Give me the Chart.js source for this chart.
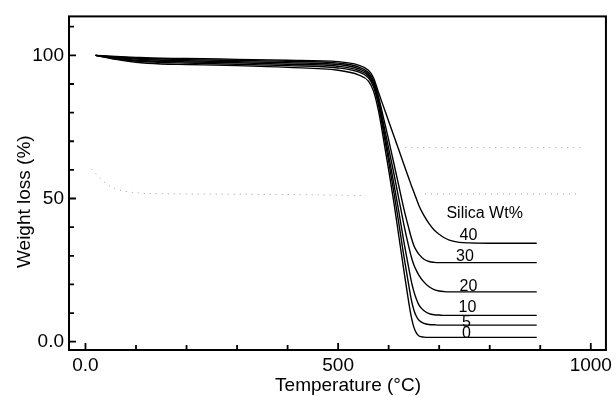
<!DOCTYPE html>
<html>
<head>
<meta charset="utf-8">
<script src="https://cdn.jsdelivr.net/npm/chart.js@4/dist/chart.umd.min.js"></script>
<style>
  html, body { margin: 0; padding: 0; background: #fff; }
  #wrap { width: 616px; height: 397px; }
</style>
</head>
<body>
<div id="wrap"><canvas id="tga"></canvas></div>
<script>
// temperature grid (°C) shared by all curves
const temps = [20, 60, 100, 150, 200, 300, 400, 500, 540, 560, 570, 580, 590, 600, 610, 620, 630, 640, 645, 650, 655, 660, 670, 680, 690, 700, 710, 720, 740, 760, 800, 893]

// weight (%) for each silica loading
const silica0  = [100, 98.6, 97.6, 97.0, 96.8, 96.4, 95.8, 94.8, 93.2, 91.0, 87.5, 80.5, 70.5, 60.0, 49.0, 37.0, 25.0, 13.5, 8.5, 5.0, 3.0, 2.0, 1.6, 1.5, 1.5, 1.5, 1.5, 1.5, 1.5, 1.5, 1.5, 1.5]
const silica5  = [100, 98.8, 98.0, 97.5, 97.3, 96.9, 96.4, 95.6, 94.2, 92.2, 89.0, 82.5, 73.0, 63.0, 52.5, 41.5, 30.0, 19.5, 14.5, 11.0, 8.8, 7.5, 6.4, 6.0, 5.9, 5.8, 5.8, 5.8, 5.8, 5.8, 5.8, 5.8]
const silica10 = [100, 99.0, 98.3, 97.9, 97.7, 97.4, 96.9, 96.2, 94.8, 92.8, 89.8, 83.5, 74.5, 65.0, 55.5, 45.5, 35.0, 25.5, 21.0, 17.5, 14.8, 12.8, 10.8, 9.8, 9.4, 9.3, 9.2, 9.2, 9.2, 9.2, 9.2, 9.2]
const silica20 = [100, 99.2, 98.7, 98.3, 98.1, 97.8, 97.4, 96.8, 95.4, 93.4, 90.5, 84.5, 76.0, 67.5, 59.0, 50.0, 41.0, 33.0, 29.5, 26.8, 24.8, 23.2, 20.8, 19.2, 18.2, 17.7, 17.5, 17.4, 17.4, 17.4, 17.4, 17.4]
const silica30 = [100, 99.4, 99.0, 98.7, 98.5, 98.2, 97.9, 97.3, 96.0, 94.0, 91.2, 85.5, 78.0, 70.5, 62.5, 54.5, 46.5, 39.5, 36.2, 33.5, 31.8, 30.5, 28.8, 28.0, 27.7, 27.6, 27.6, 27.6, 27.6, 27.6, 27.6, 27.6]
const silica40 = [100, 99.6, 99.3, 99.0, 98.9, 98.6, 98.3, 97.8, 96.6, 94.8, 92.2, 87.0, 82.0, 77.0, 72.0, 67.0, 62.0, 57.0, 54.5, 52.2, 49.8, 47.5, 44.0, 41.2, 39.0, 37.5, 36.3, 35.5, 34.7, 34.5, 34.4, 34.4]

const seriesNames = ["0", "5", "10", "20", "30", "40"]
const seriesValues = [silica0, silica5, silica10, silica20, silica30, silica40]

// faint dotted show-through traces visible in the scan
const ghostLeftT = [12, 41, 73, 150, 300, 450, 555]
const ghostLeftW = [60.3, 55.2, 52.7, 51.7, 51.5, 51.3, 51.0]
const ghostUpperT = [633, 985]
const ghostUpperW = [67.8, 67.8]
const ghostLowerT = [672, 979]
const ghostLowerW = [51.6, 51.6]

// curve labels, placed in data units
const labelTemp = [754, 754, 756, 758, 751, 758]
const labelWeight = [2.7, 6.6, 11.8, 19.4, 29.8, 37.0]
const legendTitle = "Silica Wt%"

// axis ticks
const xTicks = [0, 100, 200, 300, 400, 500, 600, 700, 800, 900, 1000]
const xLabels = {0: "0.0", 500: "500", 1000: "1000"}
const yTicks = [0, 10, 20, 30, 40, 50, 60, 70, 80, 90, 100, 110]
const yLabels = {0: "0.0", 50: "50", 100: "100"}

const FONT = "'Liberation Sans', Arial, sans-serif"

const ghost = (ts, ws) => ({
  data: ts.map((t, j) => ({x: t, y: ws[j]})),
  borderColor: "#9a9a9a",
  borderWidth: 1,
  borderDash: [1, 5],
  pointRadius: 0,
  fill: false,
  cubicInterpolationMode: "monotone"
})

const datasets = [
  ghost(ghostLeftT, ghostLeftW),
  ghost(ghostUpperT, ghostUpperW),
  ghost(ghostLowerT, ghostLowerW)
].concat(seriesValues.map((vals, i) => ({
  label: seriesNames[i],
  data: temps.map((t, j) => ({x: t, y: vals[j]})),
  borderColor: "#000",
  borderWidth: 1.4,
  pointRadius: 0,
  fill: false,
  cubicInterpolationMode: "monotone"
})))

const frameAndTicks = {
  id: "frameAndTicks",
  afterDraw(chart) {
    const ctx = chart.ctx
    const a = chart.chartArea
    const xs = chart.scales.x, ys = chart.scales.y
    ctx.save()
    ctx.strokeStyle = "#000"
    ctx.lineWidth = 2
    ctx.strokeRect(a.left, a.top, a.right - a.left, a.bottom - a.top)
    ctx.lineWidth = 1.8
    ctx.beginPath()
    xTicks.forEach(v => {
      const px = xs.getPixelForValue(v)
      const len = xLabels[v] ? 7 : 5
      ctx.moveTo(px, a.bottom)
      ctx.lineTo(px, a.bottom - len)
    })
    yTicks.forEach(v => {
      const py = ys.getPixelForValue(v)
      const len = yLabels[v] ? 7 : 5
      ctx.moveTo(a.left, py)
      ctx.lineTo(a.left + len, py)
    })
    ctx.stroke()

    // curve labels
    ctx.fillStyle = "#000"
    ctx.font = "16px " + FONT
    ctx.textAlign = "center"
    ctx.textBaseline = "middle"
    seriesNames.forEach((name, i) => {
      ctx.fillText(name, xs.getPixelForValue(labelTemp[i]), ys.getPixelForValue(labelWeight[i]))
    })
    ctx.fillText(legendTitle, xs.getPixelForValue(790), ys.getPixelForValue(44.6))
    ctx.restore()
  }
}

new Chart(document.getElementById("tga"), {
  type: "line",
  data: { datasets: datasets },
  options: {
    responsive: true,
    maintainAspectRatio: false,
    animation: false,
    layout: { padding: { top: 15, right: 3, left: 0, bottom: 0 } },
    plugins: { legend: { display: false }, tooltip: { enabled: false } },
    scales: {
      x: {
        type: "linear",
        min: -32.6,
        max: 1030,
        afterFit(scale) { scale.height = 47 },
        afterBuildTicks(scale) { scale.ticks = xTicks.map(v => ({value: v})) },
        grid: { display: false, drawTicks: false },
        border: { display: false },
        ticks: {
          padding: 4,
          color: "#000",
          font: { family: FONT, size: 19 },
          maxRotation: 0,
          autoSkip: false,
          callback: v => xLabels[v] || ""
        },
        title: {
          display: true,
          text: "    Temperature (°C)",
          color: "#000",
          font: { family: FONT, size: 19, lineHeight: 1 },
          padding: { top: 0, bottom: 1.5 }
        }
      },
      y: {
        min: -2.9,
        max: 113.6,
        afterFit(scale) { scale.width = 69 },
        afterBuildTicks(scale) { scale.ticks = yTicks.map(v => ({value: v})) },
        grid: { display: false, drawTicks: false },
        border: { display: false },
        ticks: {
          padding: 5,
          color: "#000",
          font: { family: FONT, size: 19 },
          autoSkip: false,
          callback: v => yLabels[v] || ""
        },
        title: {
          display: true,
          text: "Weight loss (%)       ",
          color: "#000",
          font: { family: FONT, size: 19, lineHeight: 1 },
          padding: { top: 15, bottom: 0 }
        }
      }
    }
  },
  plugins: [frameAndTicks]
})
</script>
</body>
</html>
